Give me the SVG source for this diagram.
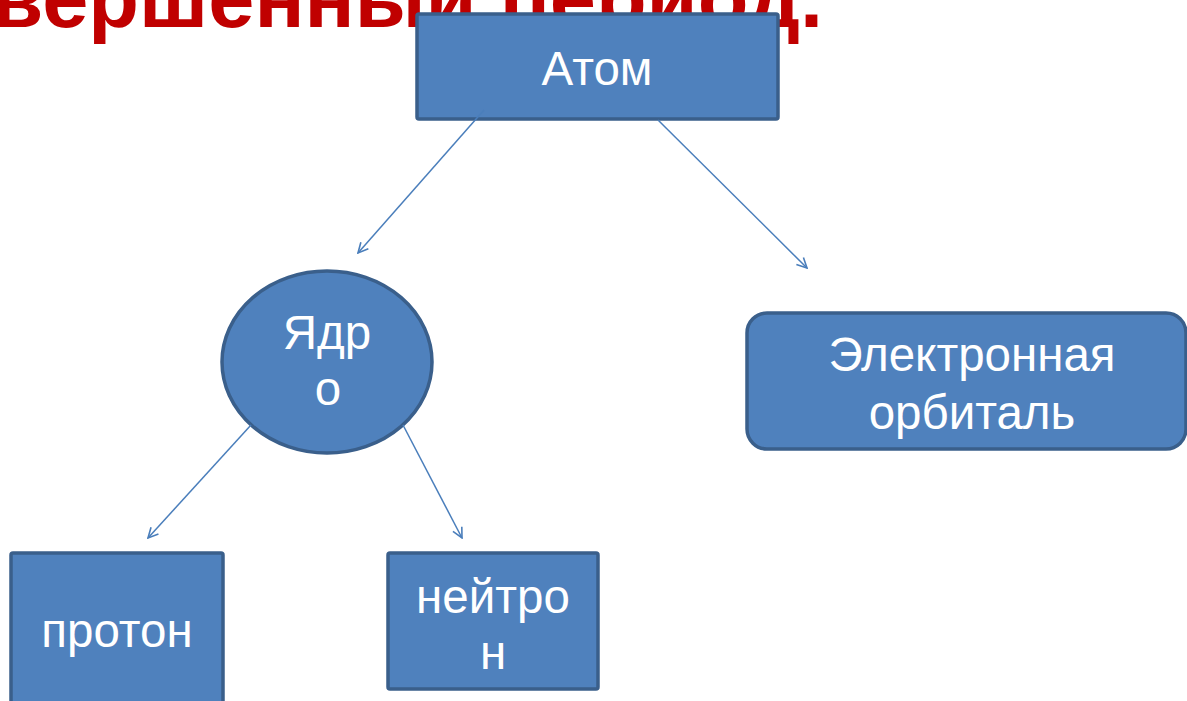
<svg xmlns="http://www.w3.org/2000/svg" width="1187" height="701" viewBox="0 0 1187 701">
<defs>
<style>
.node{fill:#4F81BD;stroke:#3A5F8B;stroke-width:3.5}
.lbl{fill:#FFFFFF;font-family:"Liberation Sans",Arial,sans-serif;font-size:47.5px;text-anchor:middle}
.title{fill:#C00000;font-family:"Liberation Sans",Arial,sans-serif;font-size:83px;font-weight:bold;text-anchor:end}
.conn{stroke:#4A7EBB;stroke-width:1.5;fill:none}
</style>
<marker id="arr" viewBox="0 0 12 12" refX="11" refY="6" markerWidth="12" markerHeight="12" markerUnits="userSpaceOnUse" orient="auto">
<path d="M1,1 L11,6 L1,11" fill="none" stroke="#4A7EBB" stroke-width="1.6"/>
</marker>
</defs>
<rect width="1187" height="701" fill="#FFFFFF"/>
<text class="title" x="823" y="27">вершенный период.</text>
<g id="atom">
<rect class="node" x="417" y="14" width="361" height="105" rx="2"/>
<text class="lbl" x="597" y="85">Атом</text>
</g>
<g id="nucleus">
<ellipse class="node" cx="327" cy="362" rx="105" ry="91"/>
<text class="lbl" x="327" y="349">Ядр</text>
<text class="lbl" x="328" y="405">о</text>
</g>
<g id="orbital">
<rect class="node" x="747" y="313" width="439" height="136" rx="20"/>
<text class="lbl" x="972" y="371">Электронная</text>
<text class="lbl" x="972" y="429">орбиталь</text>
</g>
<g id="proton">
<rect class="node" x="11" y="553" width="212" height="170" rx="2"/>
<text class="lbl" x="117" y="647">протон</text>
</g>
<g id="neutron">
<rect class="node" x="388" y="553" width="210" height="136" rx="2"/>
<text class="lbl" x="493" y="613">нейтро</text>
<text class="lbl" x="493" y="669">н</text>
</g>
<g id="connectors">
<line class="conn" x1="484" y1="110" x2="358" y2="253" marker-end="url(#arr)"/>
<line class="conn" x1="658" y1="120" x2="807" y2="268" marker-end="url(#arr)"/>
<line class="conn" x1="251" y1="425" x2="148" y2="538" marker-end="url(#arr)"/>
<line class="conn" x1="403" y1="425" x2="462" y2="538" marker-end="url(#arr)"/>
</g>
</svg>
